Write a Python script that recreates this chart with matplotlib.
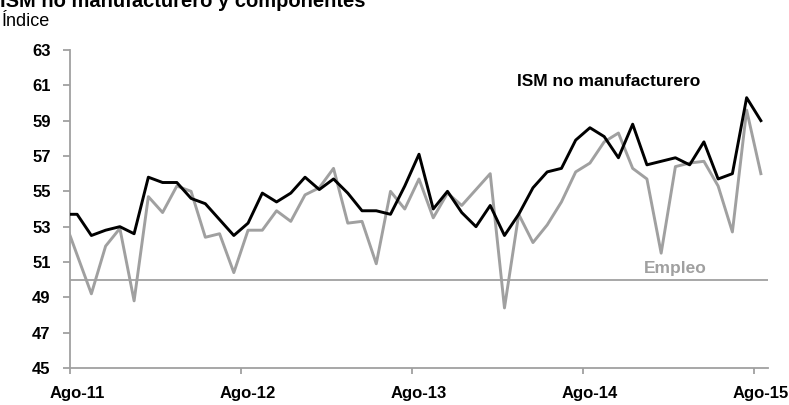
import numpy as np
import matplotlib
matplotlib.use("Agg")
import matplotlib.pyplot as plt

plt.rcParams['font.family'] = ['Liberation Sans Narrow', 'Liberation Sans', 'DejaVu Sans']

# meses desde jul-11 (jul-11 queda fuera del eje, solo se ve el tramo inicial)
meses = ['Jul-11'] + ['Ago-11', 'Sep-11', 'Oct-11', 'Nov-11', 'Dic-11', 'Ene-12', 'Feb-12', 'Mar-12',
         'Abr-12', 'May-12', 'Jun-12', 'Jul-12'] + \
        ['Ago-12', 'Sep-12', 'Oct-12', 'Nov-12', 'Dic-12', 'Ene-13', 'Feb-13', 'Mar-13',
         'Abr-13', 'May-13', 'Jun-13', 'Jul-13'] + \
        ['Ago-13', 'Sep-13', 'Oct-13', 'Nov-13', 'Dic-13', 'Ene-14', 'Feb-14', 'Mar-14',
         'Abr-14', 'May-14', 'Jun-14', 'Jul-14'] + \
        ['Ago-14', 'Sep-14', 'Oct-14', 'Nov-14', 'Dic-14', 'Ene-15', 'Feb-15', 'Mar-15',
         'Abr-15', 'May-15', 'Jun-15', 'Jul-15', 'Ago-15']

ism = [53.7,
       53.7, 52.5, 52.8, 53.0, 52.6, 55.8, 55.5, 55.5, 54.6, 54.3, 53.4, 52.5,
       53.2, 54.9, 54.4, 54.9, 55.8, 55.1, 55.7, 54.9, 53.9, 53.9, 53.7, 55.3,
       57.1, 54.0, 55.0, 53.8, 53.0, 54.2, 52.5, 53.7, 55.2, 56.1, 56.3, 57.9,
       58.6, 58.1, 56.9, 58.8, 56.5, 56.7, 56.9, 56.5, 57.8, 55.7, 56.0, 60.3, 59.0]

empleo = [53.6,
          51.4, 49.2, 51.9, 52.9, 48.8, 54.7, 53.8, 55.3, 55.0, 52.4, 52.6, 50.4,
          52.8, 52.8, 53.9, 53.3, 54.8, 55.2, 56.3, 53.2, 53.3, 50.9, 55.0, 54.0,
          55.7, 53.5, 54.9, 54.2, 55.1, 56.0, 48.4, 53.7, 52.1, 53.1, 54.4, 56.1,
          56.6, 57.8, 58.3, 56.3, 55.7, 51.5, 56.4, 56.6, 56.7, 55.3, 52.7, 59.6, 56.0]

etiquetas = ['Ago-11', 'Ago-12', 'Ago-13', 'Ago-14', 'Ago-15']
umbral = 50

x = np.arange(len(meses)) - 0.5
gris = '#a0a0a0'

fig = plt.figure(figsize=(7.89, 4.05), dpi=100)
ax = fig.add_axes([70/789, 1 - 368/405, 698/789, (368 - 50)/405])

ax.axhline(umbral, color=gris, lw=1.3, zorder=1)
ax.plot(x, empleo, color=gris, lw=2.1, zorder=2)
ax.plot(x, ism, color='black', lw=2.1, zorder=3)

ax.set_xlim(0, 49)
ax.set_ylim(45, 63)
ax.set_yticks(np.arange(45, 64, 2))

pos = [meses.index(e) - 1 for e in etiquetas]
ax.set_xticks(pos)
ax.set_xticklabels([])
ax.set_xticks([p + 0.5 for p in pos], minor=True)
ax.set_xticklabels(etiquetas, minor=True)

for s in ['top', 'right']:
    ax.spines[s].set_visible(False)
for s in ['left', 'bottom']:
    ax.spines[s].set_color(gris)
    ax.spines[s].set_linewidth(1.3)

ax.tick_params(axis='y', direction='out', length=5, width=1.3, color=gris,
               labelsize=12, pad=9)
ax.tick_params(axis='x', which='major', direction='out', length=4, width=1.3, color=gris)
ax.tick_params(axis='x', which='minor', length=0, labelsize=12, pad=13)
for lab in ax.get_yticklabels() + ax.get_xticklabels(minor=True):
    lab.set_fontweight('bold')

ax.text(517/789, 1 - 86/405, 'ISM no manufacturero', transform=fig.transFigure,
        fontsize=12.5, fontweight='bold', color='black', va='baseline')
ax.text(644/789, 1 - 273/405, 'Empleo', transform=fig.transFigure,
        fontsize=12.5, fontweight='bold', color=gris, va='baseline')

fig.text(0.0, 1 - 7/405, 'ISM no manufacturero y componentes', fontsize=14.5,
         fontweight='bold', va='baseline')
fig.text(2/789, 1 - 26/405, 'Índice', fontsize=13, va='baseline')

fig.savefig('out.png', dpi=100)
